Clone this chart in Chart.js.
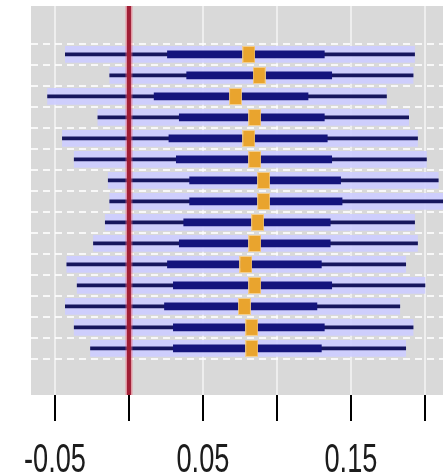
<!DOCTYPE html>
<html>
<head>
<meta charset="utf-8">
<script src="https://cdn.jsdelivr.net/npm/chart.js@4.4.1/dist/chart.umd.min.js"></script>
<style>
  html, body { margin: 0; padding: 0; background: #fff; }
  #wrap { width: 443px; height: 476px; }
</style>
</head>
<body>
<div id="wrap"><canvas id="chart" width="443" height="476"></canvas></div>
<script>
  // one row per estimate, top to bottom
  const rowIds = [1, 2, 3, 4, 5, 6, 7, 8, 9, 10, 11, 12, 13, 14, 15];
  const lowValues = [-0.043, -0.013, -0.055, -0.021, -0.045, -0.037, -0.014, -0.013, -0.016, -0.024, -0.042, -0.035, -0.043, -0.037, -0.026];
  const q1Values = [0.026, 0.039, 0.017, 0.034, 0.027, 0.032, 0.041, 0.041, 0.037, 0.034, 0.026, 0.030, 0.024, 0.030, 0.030];
  const medianValues = [0.081, 0.088, 0.072, 0.085, 0.081, 0.085, 0.091, 0.091, 0.087, 0.085, 0.079, 0.085, 0.078, 0.083, 0.083];
  const q3Values = [0.132, 0.137, 0.121, 0.132, 0.134, 0.137, 0.143, 0.144, 0.136, 0.136, 0.130, 0.137, 0.127, 0.132, 0.130];
  const highValues = [0.193, 0.192, 0.174, 0.189, 0.195, 0.201, 0.209, 0.212, 0.193, 0.195, 0.187, 0.200, 0.183, 0.192, 0.187];
  const tickValues = [-0.05, 0, 0.05, 0.1, 0.15, 0.2];
  const labeledTicks = [-0.05, 0.05, 0.15];
  const referenceValue = 0;

  const pairs = (a, b) => rowIds.map((id, i) => ({ y: id, x: [a[i], b[i]] }));

  // orange median marker
  const marker = document.createElement('canvas');
  marker.width = 13;
  marker.height = 17;
  (function drawMarker() {
    const m = marker.getContext('2d');
    m.fillStyle = 'rgba(246, 205, 130, 0.9)';
    m.fillRect(0, 0, 13, 17);
    m.fillStyle = '#e9a42e';
    m.fillRect(1, 1, 11, 15);
  })();

  const panel = {
    id: 'panel',
    beforeDraw(chart) {
      const { ctx, chartArea: { left, top, width, height } } = chart;
      ctx.save();
      ctx.fillStyle = '#d9d9d9';
      ctx.fillRect(left, top, width, height);
      ctx.restore();
    },
    afterDatasetsDraw(chart) {
      const { ctx, chartArea: { top, bottom } } = chart;
      const x = chart.scales.x.getPixelForValue(referenceValue);
      ctx.save();
      ctx.strokeStyle = 'rgba(235, 90, 110, 0.5)';
      ctx.lineWidth = 7;
      ctx.beginPath();
      ctx.moveTo(x, top);
      ctx.lineTo(x, bottom);
      ctx.stroke();
      ctx.strokeStyle = '#a01f36';
      ctx.lineWidth = 4;
      ctx.stroke();
      ctx.restore();
    },
    afterDraw(chart) {
      const { ctx } = chart;
      const scale = chart.scales.x;
      ctx.save();
      ctx.fillStyle = '#1c1c1c';
      ctx.font = '40px "Liberation Sans", Arial, sans-serif';
      ctx.textAlign = 'center';
      ctx.textBaseline = 'alphabetic';
      labeledTicks.forEach((v) => {
        ctx.save();
        ctx.translate(scale.getPixelForValue(v), 472);
        ctx.scale(0.68, 1);
        ctx.fillText(String(v), 0, 0);
        ctx.restore();
      });
      ctx.restore();
    },
  };

  new Chart(document.getElementById('chart'), {
    type: 'bar',
    data: {
      datasets: [
        {
          label: 'band',
          data: pairs(lowValues, highValues),
          backgroundColor: 'rgba(204, 204, 255, 0.9)',
          barThickness: 16,
          order: 4,
        },
        {
          label: 'range',
          data: pairs(lowValues, highValues),
          backgroundColor: '#16165e',
          barThickness: 3,
          order: 3,
        },
        {
          label: 'inner',
          data: pairs(q1Values, q3Values),
          backgroundColor: '#14147c',
          barThickness: 7,
          order: 2,
        },
        {
          type: 'scatter',
          label: 'median',
          data: rowIds.map((id, i) => ({ x: medianValues[i], y: id })),
          pointStyle: marker,
          order: 1,
        },
      ],
    },
    options: {
      animation: false,
      responsive: false,
      events: [],
      indexAxis: 'y',
      layout: { autoPadding: false, padding: { left: 31, right: 0, top: 6, bottom: 0 } },
      datasets: {
        bar: { grouped: false, borderWidth: 0, borderSkipped: false },
      },
      scales: {
        x: {
          type: 'linear',
          min: -0.0662,
          max: 0.2122,
          afterBuildTicks: (axis) => {
            axis.ticks = tickValues.map((value) => ({ value }));
          },
          afterFit: (axis) => {
            axis.height = 81;
          },
          ticks: { display: false },
          border: { display: false },
          grid: {
            color: 'rgba(255, 255, 255, 0.55)',
            lineWidth: 2,
            tickColor: '#000',
            tickWidth: 2,
            tickLength: 26,
          },
        },
        y: {
          type: 'linear',
          reverse: true,
          min: -0.69,
          max: 16.6,
          afterBuildTicks: (axis) => {
            axis.ticks = rowIds.map((value) => ({ value }));
          },
          afterFit: (axis) => {
            axis.width = 0;
          },
          ticks: { display: false },
          border: { display: false, dash: [7, 5] },
          grid: {
            color: 'rgba(255, 255, 255, 0.8)',
            lineWidth: 2,
            drawTicks: false,
          },
        },
      },
      plugins: {
        legend: { display: false },
        tooltip: { enabled: false },
      },
    },
    plugins: [panel],
  });
</script>
</body>
</html>
